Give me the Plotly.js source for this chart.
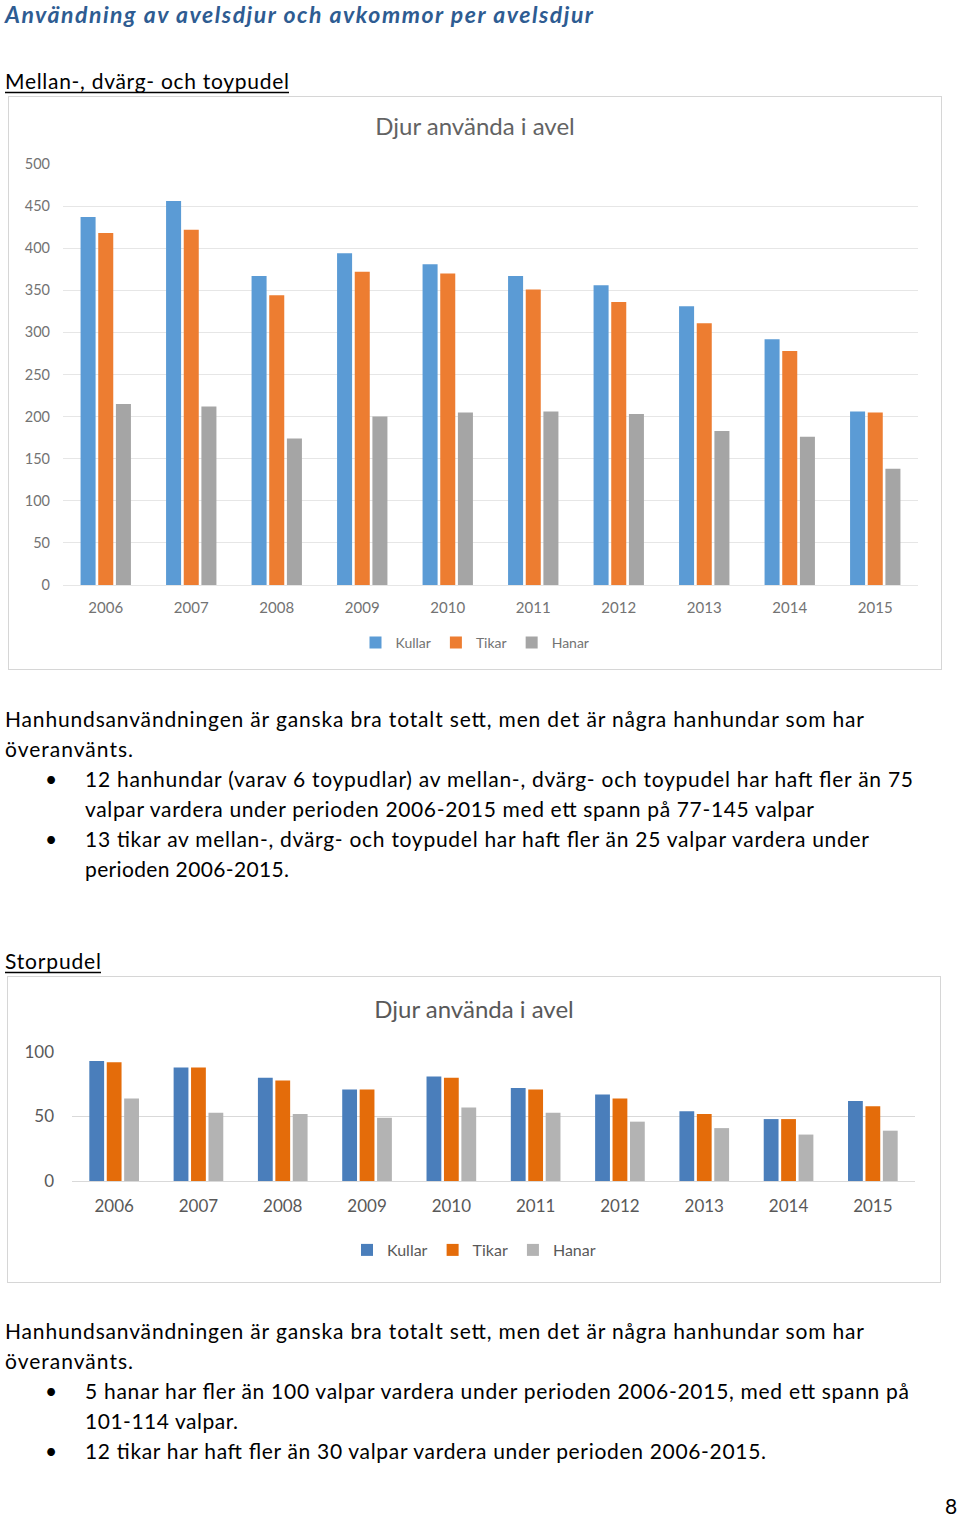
<!DOCTYPE html>
<html>
<head>
<meta charset="utf-8">
<script src="https://cdn.plot.ly/plotly-3.0.1.min.js"></script>
<style>
  html, body { margin:0; padding:0; background:#fff; }
  body { width:960px; height:1518px; position:relative; overflow:hidden; }
  #page { position:absolute; left:0; top:0; }
  .chart { position:absolute; }
  .frame { position:absolute; border:1px solid #d6d6d6; box-sizing:border-box; pointer-events:none; }
</style>
</head>
<body>
<svg id="page" width="960" height="1518" xmlns="http://www.w3.org/2000/svg"></svg>
<div id="c1" class="chart" style="left:8px;top:96px;width:934px;height:574px;"></div>
<div class="frame" style="left:8px;top:96px;width:934px;height:574px;"></div>
<div id="c2" class="chart" style="left:7px;top:976px;width:934px;height:307px;"></div>
<div class="frame" style="left:7px;top:976px;width:934px;height:307px;"></div>
<script>
// ---- data ----
const years = ['2006','2007','2008','2009','2010','2011','2012','2013','2014','2015'];
const seriesNames = ['Kullar','Tikar','Hanar'];
const chartTitle = 'Djur använda i avel';

// Mellan-, dvärg- och toypudel
const mdtKullar = [437, 456, 367, 394, 381, 367, 356, 331, 292, 206];
const mdtTikar  = [418, 422, 344, 372, 370, 351, 336, 311, 278, 205];
const mdtHanar  = [215, 212, 174, 200, 205, 206, 203, 183, 176, 138];
const mdtTicks  = [0, 50, 100, 150, 200, 250, 300, 350, 400, 450, 500];

// Storpudel
const storKullar = [93, 88, 80, 71, 81, 72, 67, 54, 48, 62];
const storTikar  = [92, 88, 78, 71, 80, 71, 64, 52, 48, 58];
const storHanar  = [64, 53, 52, 49, 57, 53, 46, 41, 36, 39];
const storTicks  = [0, 50, 100];

// ---- page text ----
const pageTitle = 'Användning av avelsdjur och avkommor per avelsdjur';
const heading1 = 'Mellan-, dvärg- och toypudel';
const heading2 = 'Storpudel';
const intro1 = 'Hanhundsanvändningen är ganska bra totalt sett, men det är några hanhundar som har';
const intro2 = 'överanvänts.';
const para1Bullets = [
  ['12 hanhundar (varav 6 toypudlar) av mellan-, dvärg- och toypudel har haft fler än 75',
   'valpar vardera under perioden 2006-2015 med ett spann på 77-145 valpar'],
  ['13 tikar av mellan-, dvärg- och toypudel har haft fler än 25 valpar vardera under',
   'perioden 2006-2015.']
];
const para2Bullets = [
  ['5 hanar har fler än 100 valpar vardera under perioden 2006-2015, med ett spann på',
   '101-114 valpar.'],
  ['12 tikar har haft fler än 30 valpar vardera under perioden 2006-2015.']
];
const pageNumber = '8';

// ---- draw page text (SVG) ----
const NS = 'http://www.w3.org/2000/svg';
const svg = document.getElementById('page');
function txt(s, x, y, opts) {
  opts = opts || {};
  const t = document.createElementNS(NS, 'text');
  t.setAttribute('x', x);
  t.setAttribute('y', y);
  t.setAttribute('font-family', 'Lato, "Open Sans", sans-serif');
  t.setAttribute('font-size', opts.size || 21);
  t.setAttribute('fill', opts.color || '#000');
  if (opts.bold) t.setAttribute('font-weight', 'bold');
  if (opts.italic) t.setAttribute('font-style', 'italic');
  if (opts.w) { t.setAttribute('textLength', opts.w); t.setAttribute('lengthAdjust', 'spacing'); }
  t.textContent = s;
  svg.appendChild(t);
  if (opts.underline && opts.w) {
    const l = document.createElementNS(NS, 'line');
    l.setAttribute('x1', x); l.setAttribute('x2', x + opts.w);
    l.setAttribute('y1', y + 3.5); l.setAttribute('y2', y + 3.5);
    l.setAttribute('stroke', '#000'); l.setAttribute('stroke-width', 1.4);
    svg.appendChild(l);
  }
  return t;
}
const widths = {
  title: 588, h1: 284, h2: 96, intro1: 859, intro2: 128,
  p1: [[828, 729], [784, 204]],
  p2: [[824, 153], [681]]
};
txt(pageTitle, 5, 23, {size: 23, bold: true, italic: true, color: '#2E5C92', w: widths.title});
txt(heading1, 5, 89, {underline: true, w: widths.h1});

function paragraph(y0, bullets, bw) {
  txt(intro1, 5, y0, {w: widths.intro1});
  txt(intro2, 5, y0 + 30, {w: widths.intro2});
  let y = y0 + 60;
  bullets.forEach((lines, i) => {
    txt('•', 45, y, {size: 21});
    lines.forEach((ln, j) => {
      txt(ln, 85, y, {w: bw[i][j]});
      y += 30;
    });
  });
}
paragraph(727, para1Bullets, widths.p1);
txt(heading2, 5, 969, {underline: true, w: widths.h2});
paragraph(1339, para2Bullets, widths.p2);
txt(pageNumber, 945, 1514, {size: 21});

// ---- charts ----
function makeChart(id, vals, colors, opt) {
  const traces = vals.map((v, i) => ({
    type: 'bar', name: seriesNames[i], x: years, y: v,
    marker: {color: colors[i]}, hoverinfo: 'skip'
  }));
  const layout = {
    width: opt.w, height: opt.h,
    margin: opt.margin,
    paper_bgcolor: '#fff', plot_bgcolor: '#fff',
    font: {family: 'Lato, "Open Sans", sans-serif', color: opt.fc},
    title: {text: chartTitle, x: 0.5, xanchor: 'center', xref: 'container',
            y: opt.titleY, yanchor: 'middle', yref: 'container',
            font: {size: opt.titleSize, color: opt.tc, family: 'Lato, "Open Sans", sans-serif'}},
    barmode: 'group', bargap: 0.38, bargroupgap: 0.15,
    xaxis: {type: 'category', showgrid: false, showline: false, ticks: '',
            tickfont: {size: opt.xfs, color: opt.fc}, ticklabelstandoff: opt.xso, fixedrange: true},
    yaxis: {range: opt.range, tickvals: opt.ticks, showgrid: true, gridcolor: opt.gc, gridwidth: 1,
            zeroline: true, zerolinecolor: opt.gc, zerolinewidth: 1, showline: false, ticks: '',
            tickfont: {size: opt.yfs, color: opt.fc}, ticklabelstandoff: opt.yso, fixedrange: true},
    showlegend: true,
    legend: {orientation: 'h', x: 0.5, xanchor: 'center', xref: 'container',
             y: opt.legY, yanchor: 'middle', yref: 'container',
             font: {size: opt.lfs, color: opt.fc}, itemwidth: 30, traceorder: 'normal'}
  };
  Plotly.newPlot(id, traces, layout, {displayModeBar: false, staticPlot: true});
}

makeChart('c1', [mdtKullar, mdtTikar, mdtHanar], ['#5B9BD5', '#ED7D31', '#A5A5A5'], {
  w: 934, h: 574, margin: {l: 55, r: 24, t: 68, b: 85},
  fc: '#737373', tc: '#636363', gc: '#E6E6E6',
  titleY: 1 - 31/574, titleSize: 24,
  range: [0, 500], ticks: mdtTicks,
  xfs: 15, yfs: 14.5, xso: 12, yso: 12,
  legY: 1 - 547/574, lfs: 14
});

makeChart('c2', [storKullar, storTikar, storHanar], ['#4A7EBB', '#E46C0A', '#B3B3B3'], {
  w: 934, h: 307, margin: {l: 65, r: 26, t: 76, b: 102},
  fc: '#595959', tc: '#595959', gc: '#D9D9D9',
  titleY: 1 - 34/307, titleSize: 24,
  range: [0, 100], ticks: storTicks,
  xfs: 17, yfs: 17, xso: 13, yso: 17,
  legY: 1 - 274/307, lfs: 16
});
</script>
</body>
</html>
